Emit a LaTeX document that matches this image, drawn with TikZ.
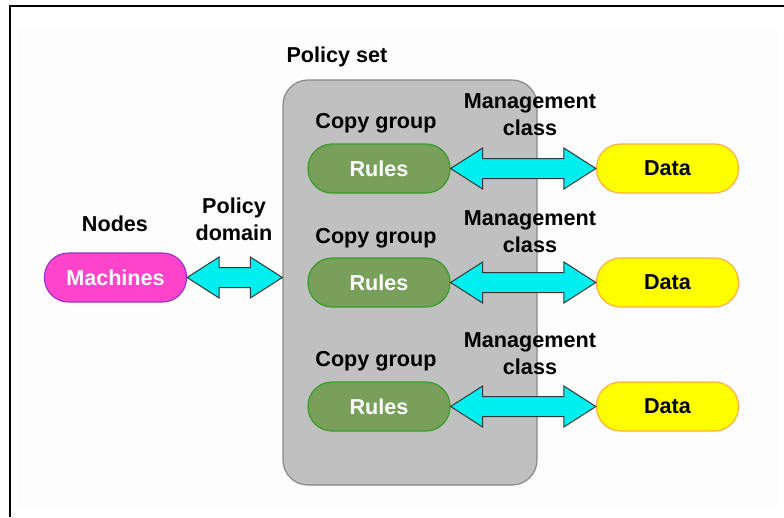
\documentclass[tikz,border=0pt]{standalone}
\usepackage{fontspec}
\setmainfont{Liberation Sans}
\usetikzlibrary{calc}
\definecolor{rulesfill}{HTML}{78A05A}
\definecolor{rulesline}{HTML}{3A9A2A}
\definecolor{datafill}{HTML}{FFFF00}
\definecolor{dataline}{HTML}{FFB040}
\definecolor{machfill}{HTML}{FF44CC}
\definecolor{machline}{HTML}{9933CC}
\definecolor{arrowfill}{HTML}{00EEEE}
\definecolor{arrowline}{HTML}{303838}
\definecolor{setfill}{HTML}{C0C0C0}
\definecolor{setline}{HTML}{888888}
\definecolor{pagefill}{HTML}{FDFDFD}
\tikzset{
  lbl/.style={font=\fontsize{21.6}{27}\selectfont\bfseries, align=center, inner sep=0pt},
  pill/.style={rounded corners=24pt, minimum width=142pt, minimum height=49pt,
    line width=1.2pt, font=\fontsize{21.6}{24}\selectfont\bfseries, inner sep=0pt},
  rulesbox/.style={pill, fill=rulesfill, draw=rulesline, text=white},
  databox/.style={pill, fill=datafill, draw=dataline, text=black},
  machbox/.style={pill, fill=machfill, draw=machline, text=white},
  setbox/.style={rounded corners=25pt, minimum width=254pt, minimum height=405pt,
    fill=setfill, draw=setline, line width=1.2pt},
  fatarrow/.style={fill=arrowfill, draw=arrowline, line width=1pt, line join=miter}
}
% double-headed block arrow between two points
\newcommand\blockarrow[2]{%
  \path[fatarrow] (#1) -- ($(#1)+(32,-20.5)$) -- ($(#1)+(32,-10)$)
    -- ($(#2)+(-32,-10)$) -- ($(#2)+(-32,-20.5)$) -- (#2)
    -- ($(#2)+(-32,20.5)$) -- ($(#2)+(-32,10)$)
    -- ($(#1)+(32,10)$) -- ($(#1)+(32,20.5)$) -- cycle;}
\begin{document}
\begin{tikzpicture}[x=1pt, y=-1pt]
\useasboundingbox (0,0) rectangle (784,517);
\fill[pagefill] (18,28) rectangle (778,507);
\draw[line width=2pt] (10,517) -- (10,6) -- (784,6);

\node[setbox] (ps) at (410,282.5) {};
\node[lbl] (pslabel) at (337,57) {Policy set};

\node[machbox] (m) at (115.5,277.5) {Machines};
\node[lbl] (nodes) at (115,224) {Nodes};
\node[lbl] (pd) at (234,219) {Policy\\domain};

\node[rulesbox] (r1) at (379,168.5) {Rules};
\node[rulesbox] (r2) at (379,282.5) {Rules};
\node[rulesbox] (r3) at (379,406.5) {Rules};
\node[lbl] (cg1) at (376,123) {Copy group};
\node[lbl] (cg2) at (376,238) {Copy group};
\node[lbl] (cg3) at (376,361) {Copy group};

\node[databox] (d1) at (667.5,168.5) {Data};
\node[databox] (d2) at (667.5,282.5) {Data};
\node[databox] (d3) at (667.5,406.5) {Data};

\coordinate (pin) at (m.east -| ps.west);
\blockarrow{m.east}{pin}
\blockarrow{r1.east}{d1.west}
\blockarrow{r2.east}{d2.west}
\blockarrow{r3.east}{d3.west}

\node[lbl] (mc1) at (530,114.5) {Management\\class};
\node[lbl] (mc2) at (530,232) {Management\\class};
\node[lbl] (mc3) at (530,353.5) {Management\\class};
\end{tikzpicture}
\end{document}
